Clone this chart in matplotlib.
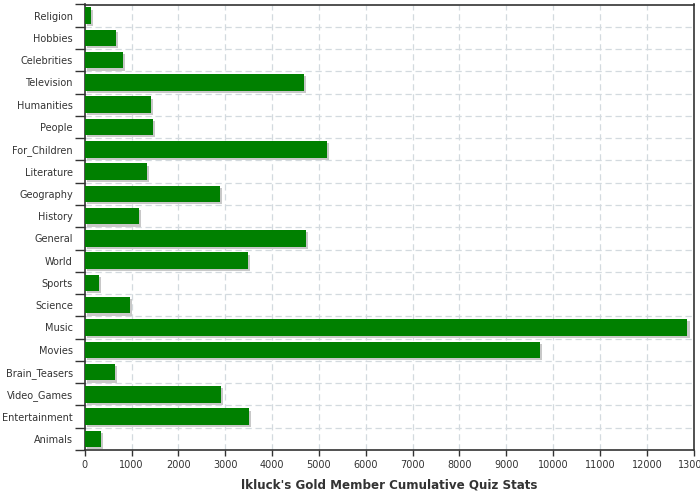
import numpy as np
import matplotlib
matplotlib.use('Agg')
import matplotlib.pyplot as plt
import matplotlib.patheffects as pe

categories = ['Religion', 'Hobbies', 'Celebrities', 'Television', 'Humanities',
              'People', 'For_Children', 'Literature', 'Geography', 'History',
              'General', 'World', 'Sports', 'Science', 'Music', 'Movies',
              'Brain_Teasers', 'Video_Games', 'Entertainment', 'Animals']
values = [134, 667, 817, 4677, 1414, 1457, 5168, 1329, 2886, 1158,
          4720, 3483, 305, 966, 12866, 9710, 646, 2907, 3511, 348]
xticks = list(range(0, 13001, 1000))

txt = '#333333'
fig = plt.figure(figsize=(7, 5), dpi=100)
ax = fig.add_axes([0.121, 0.1, 0.870, 0.891])

n = len(categories)
pos = np.arange(n)
bars = ax.barh(pos, values, height=0.74, color='#008000', zorder=3)
for b in bars:
    b.set_path_effects([pe.SimplePatchShadow(offset=(1.6, -1.6), shadow_rgbFace='#c8c8c8', alpha=1.0),
                        pe.Normal()])

ax.set_ylim(n - 0.5, -0.5)
ax.set_xlim(0, 13000)
ax.set_yticks(pos)
ax.set_yticklabels(categories)
ax.set_yticks(np.arange(n + 1) - 0.5, minor=True)
ax.tick_params(axis='y', which='major', length=0, pad=8.5, labelsize=7, labelcolor=txt)
ax.tick_params(axis='y', which='minor', length=7, width=1, color=txt)
ax.set_xticks(xticks)
ax.tick_params(axis='x', length=4, width=1, color=txt, labelsize=7, labelcolor=txt)

ax.grid(True, axis='x', which='major', linestyle=(0, (5, 3)), color='#d3dadf', linewidth=0.9, zorder=0)
ax.grid(True, axis='y', which='minor', linestyle=(0, (5, 3)), color='#d3dadf', linewidth=0.9, zorder=0)
for s in ax.spines.values():
    s.set_color(txt)
    s.set_linewidth(1.2)

ax.set_xlabel("lkluck's Gold Member Cumulative Quiz Stats", fontsize=8.6, fontweight='bold',
              color=txt, labelpad=5.5)

plt.savefig('out.png', dpi=100)
